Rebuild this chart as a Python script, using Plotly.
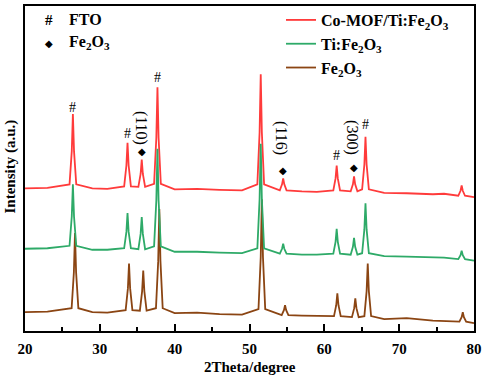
import plotly.graph_objects as go

# ---- data (2Theta in degrees, intensity in a.u.) ----
two_theta = [20, 23, 25.95, 26.25, 26.4, 26.55, 26.85, 29, 31, 33.25, 33.55, 33.7, 33.85, 34.15,
             35.15, 35.45, 35.6, 35.75, 36.05, 37.25, 37.55, 37.7, 37.85, 38.15, 40, 43, 46, 49,
             51.05, 51.35, 51.5, 51.65, 51.95, 54.05, 54.35, 54.5, 54.65, 54.95, 57, 59,
             61.2, 61.5, 61.65, 61.8, 62.1, 63.52, 63.82, 63.97, 64.12, 64.42,
             65.05, 65.35, 65.5, 65.65, 65.95, 68, 71, 74.5, 76, 77.9, 78.2, 78.35, 78.5, 78.8, 80]

co_mof_ti_fe2o3 = [144, 144.5, 148, 181.5, 219, 181.5, 148, 144, 143.5, 146, 167, 190, 167, 146,
                   145.5, 158.5, 173, 158.5, 145.5, 148.5, 195, 246, 195, 148.5, 143, 143.5, 142.5, 142,
                   148, 200.5, 259, 200.5, 148, 142, 148, 154, 148, 142, 141, 140.5,
                   142, 154, 167, 154, 142, 141, 148, 156, 148, 141,
                   143, 168, 196, 168, 143, 139.5, 139, 138, 138.5, 136.5, 141.5, 147, 141.5, 136.5, 135]

ti_fe2o3 = [83, 83.5, 86, 115.5, 148, 115.5, 86, 82, 82, 83.5, 100, 119, 100, 83.5,
            82.5, 98, 115, 98, 82.5, 85.5, 132, 184, 132, 85.5, 80, 80, 79, 78.5,
            83.5, 133.5, 189, 133.5, 83.5, 78, 83, 88, 83, 78, 77, 77,
            78, 90, 103, 90, 78, 77, 85, 94, 85, 77,
            78.5, 102.5, 129, 102.5, 78.5, 75.5, 75, 74, 74, 72.5, 76.5, 81, 76.5, 72.5, 71]

two_theta_fe2o3 = [20, 23, 26.23, 26.53, 26.68, 26.83, 27.13, 29, 31, 33.45, 33.75, 33.9, 34.05, 34.35,
                   35.35, 35.65, 35.8, 35.95, 36.25, 37.5, 37.8, 37.95, 38.1, 38.4, 40, 43, 46, 49,
                   51.2, 51.5, 51.65, 51.8, 52.1, 54.3, 54.6, 54.75, 54.9, 55.2, 57, 59,
                   61.29, 61.59, 61.74, 61.89, 62.19, 63.69, 63.99, 64.14, 64.29, 64.59,
                   65.35, 65.65, 65.8, 65.95, 66.25, 68, 71, 74.5, 76, 78.05, 78.35, 78.5, 78.65, 78.95, 80]

fe2o3 = [19, 19.5, 23, 59, 99, 59, 23, 19, 18.5, 21, 43, 68, 43, 21,
         20.5, 40, 61, 40, 20.5, 23, 70.5, 123, 70.5, 23, 18, 18.5, 17, 16.5,
         22, 74.5, 133, 74.5, 22, 16, 21, 26, 21, 16, 15.5, 15,
         15, 26, 38, 26, 15, 14, 23, 33, 23, 14,
         15, 40, 68, 40, 15, 12, 13, 10.5, 10, 9.5, 14, 19, 14, 9.5, 8]

series_names = ["Co-MOF/Ti:Fe<sub>2</sub>O<sub>3</sub>", "Ti:Fe<sub>2</sub>O<sub>3</sub>", "Fe<sub>2</sub>O<sub>3</sub>"]
colors = ["#FF3B3B", "#2EAA68", "#8B4513"]

# FTO (#) markers and Fe2O3 (diamond) markers: (2theta, intensity)
fto_x = [26.4, 33.7, 37.7, 61.65, 65.5]
fto_y = [226, 199, 256, 177, 208]
hem_x = [35.6, 54.5, 63.97]
hem_y = [181, 162, 165]
hkl_labels = ["(110)", "(116)", "(300)"]
hkl_x = [35.5, 54.3, 63.66]
hkl_y = [205, 195, 195]

x_ticks = [20, 30, 40, 50, 60, 70, 80]

FONT = "Liberation Serif"
PL, PR, PT, PB = 25, 474, 3, 331   # plot area in pixels


def px(xp):
    return (xp - PL) / (PR - PL)


def py(yp):
    return (PB - yp) / (PB - PT)


fig = go.Figure()
# drawing order: Fe2O3 underneath, then Co-MOF/Ti:Fe2O3, then Ti:Fe2O3 on top; legend keeps the reference order
for xs, ys, name, c, rank in [(two_theta_fe2o3, fe2o3, series_names[2], colors[2], 3),
                              (two_theta, co_mof_ti_fe2o3, series_names[0], colors[0], 1),
                              (two_theta, ti_fe2o3, series_names[1], colors[1], 2)]:
    fig.add_trace(go.Scatter(x=xs, y=ys, mode="lines", name=name, legendrank=rank,
                             line=dict(color=c, width=1.8)))

ann = []
for x, y in zip(fto_x, fto_y):
    ann.append(dict(x=x, y=y, text="#", showarrow=False, xanchor="center", yanchor="middle",
                    font=dict(family=FONT, size=14, color="black", weight="normal")))
for x, y in zip(hem_x, hem_y):
    ann.append(dict(x=x, y=y, text="◆", showarrow=False, xanchor="center", yanchor="middle",
                    font=dict(family="DejaVu Sans", size=10, color="black", weight="normal")))
for x, y, t in zip(hkl_x, hkl_y, hkl_labels):
    ann.append(dict(x=x, y=y, text=t, textangle=90, showarrow=False, xanchor="center", yanchor="middle",
                    font=dict(family=FONT, size=16, color="black", weight="normal")))


def paper_text(xp, yp, text, size=16, family=FONT, weight="bold", xanchor="center", angle=0):
    return dict(xref="paper", yref="paper", x=px(xp), y=py(yp), text=text, textangle=angle,
                xanchor=xanchor, yanchor="middle", showarrow=False,
                font=dict(family=family, size=size, color="black", weight=weight))


# top-left key
ann.append(paper_text(49, 17, "#", size=15))
ann.append(paper_text(67, 17, "FTO", xanchor="left"))
ann.append(paper_text(49, 41, "◆", size=10, family="DejaVu Sans", weight="normal"))
ann.append(paper_text(67, 40, "Fe<sub>2</sub>O<sub>3</sub>", xanchor="left"))

# axis titles
ann.append(paper_text(250, 367, "2Theta/degree", size=15))
ann.append(paper_text(11, 165, "Intensity (a.u.)", size=15, angle=-90))

fig.update_layout(
    width=484, height=380,
    margin=dict(l=PL, r=484 - PR, t=PT, b=380 - PB),
    paper_bgcolor="white", plot_bgcolor="white",
    font=dict(family=FONT, size=15, color="black", weight="bold"),
    annotations=ann,
    legend=dict(x=px(281), y=py(0), xanchor="left", yanchor="top", bgcolor="rgba(0,0,0,0)",
                font=dict(family=FONT, size=16, color="black", weight="bold"),
                itemwidth=30, tracegroupgap=0, traceorder="normal"),
    xaxis=dict(range=[20, 80], tickvals=x_ticks, ticktext=[str(v) for v in x_ticks],
               ticks="inside", ticklen=7, tickwidth=2, tickcolor="black",
               minor=dict(ticks="inside", ticklen=4, tickwidth=1.5, dtick=5, tickcolor="black"),
               showline=True, linewidth=2, linecolor="black", mirror=True, showgrid=False, zeroline=False,
               automargin=False, ticklabelstandoff=3,
               tickfont=dict(family=FONT, size=15, color="black", weight="bold")),
    yaxis=dict(range=[0, 328], showticklabels=False, ticks="", automargin=False,
               showline=True, linewidth=2, linecolor="black", mirror=True, showgrid=False, zeroline=False),
)

fig.write_html("out.html", config={"displayModeBar": False},
               post_script="document.body.style.margin='0';")
